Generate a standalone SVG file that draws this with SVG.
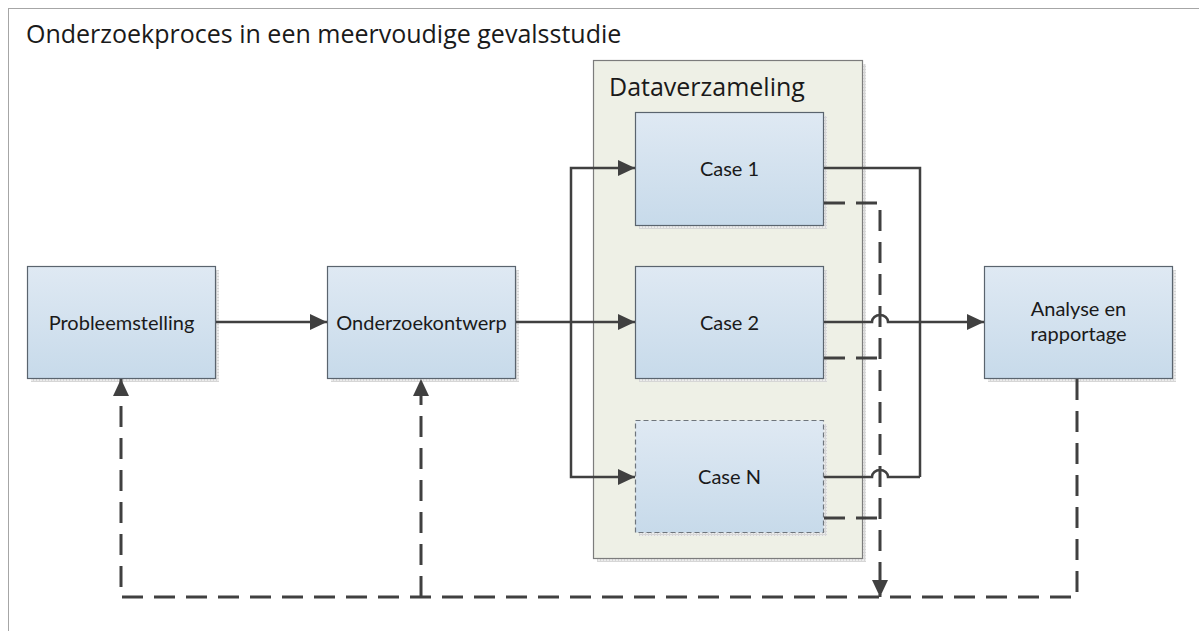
<svg xmlns="http://www.w3.org/2000/svg" width="1199" height="631" viewBox="0 0 1199 631">
  <style>
    text { fill: #1a1a1a; }
    .title, .group-label { font-family: "Open Sans", "Noto Sans", sans-serif; font-size: 25px; }
    .label { font-family: Lato, "Open Sans", sans-serif; font-size: 20px; text-anchor: middle; }
    .box { fill: url(#boxFill); stroke: #5a646e; stroke-width: 1.2; }
    .box-opt { fill: url(#boxFill); stroke: #6e757c; stroke-width: 1.2; stroke-dasharray: 5 3; }
    .shadow { fill: url(#hatch); }
    .flow { fill: none; stroke: #404040; stroke-width: 2.5; }
    .feedback { fill: none; stroke: #404040; stroke-width: 3; stroke-dasharray: 21 11; }
  </style>
  <defs>
    <linearGradient id="boxFill" x1="0" y1="0" x2="0" y2="1">
      <stop offset="0" stop-color="#dfe9f3"/>
      <stop offset="1" stop-color="#c7daea"/>
    </linearGradient>
    <pattern id="hatch" width="3" height="3" patternUnits="userSpaceOnUse">
      <rect width="3" height="3" fill="#ececec"/>
      <path d="M0 0.5H3M0.5 0V3" stroke="#d6d6d6" stroke-width="1"/>
    </pattern>
    <marker id="arrow" markerWidth="17" markerHeight="16" refX="17" refY="8" orient="auto" markerUnits="userSpaceOnUse">
      <path d="M0 0L17 8L0 16z" fill="#404040"/>
    </marker>
  </defs>

  <!-- page frame (runs past the right and bottom edges) and heading -->
  <rect x="8.5" y="8.5" width="1300" height="700" fill="#ffffff" stroke="#a6a6a6" stroke-width="1"/>
  <text class="title" x="26" y="43">Onderzoekproces in een meervoudige gevalsstudie</text>

  <!-- data collection container -->
  <g id="dataverzameling">
    <rect class="shadow" x="597" y="64" width="269" height="498"/>
    <rect x="593.5" y="60.5" width="269" height="498" fill="#eef0e6" stroke="#7c7c7c" stroke-width="1.2"/>
    <text class="group-label" x="609" y="96">Dataverzameling</text>
  </g>

  <g id="probleemstelling">
    <rect class="shadow" x="31" y="270" width="188" height="112"/>
    <rect class="box" x="27.5" y="266.5" width="188" height="112"/>
    <text class="label" x="121.5" y="330">Probleemstelling</text>
  </g>

  <g id="onderzoekontwerp">
    <rect class="shadow" x="331" y="270" width="188" height="112"/>
    <rect class="box" x="327.5" y="266.5" width="188" height="112"/>
    <text class="label" x="421.5" y="330">Onderzoekontwerp</text>
  </g>

  <g id="case1">
    <rect class="shadow" x="639" y="116" width="188" height="113"/>
    <rect class="box" x="635.5" y="112.5" width="188" height="113"/>
    <text class="label" x="729.5" y="176">Case 1</text>
  </g>

  <g id="case2">
    <rect class="shadow" x="639" y="270" width="188" height="112"/>
    <rect class="box" x="635.5" y="266.5" width="188" height="112"/>
    <text class="label" x="729.5" y="330">Case 2</text>
  </g>

  <g id="caseN">
    <rect class="shadow" x="639" y="424" width="188" height="112"/>
    <rect class="box-opt" x="635.5" y="420.5" width="188" height="112"/>
    <text class="label" x="729.5" y="484">Case N</text>
  </g>

  <g id="analyse">
    <rect class="shadow" x="988" y="270" width="188" height="112"/>
    <rect class="box" x="984.5" y="266.5" width="188" height="112"/>
    <text class="label" x="1078.5" y="316">Analyse en</text>
    <text class="label" x="1078.5" y="341">rapportage</text>
  </g>

  <g id="connectors">
    <!-- main flow -->
    <path class="flow" d="M216 322H327" marker-end="url(#arrow)"/>
    <path class="flow" d="M516 322H635" stroke-width="3" marker-end="url(#arrow)"/>
    <path class="flow" d="M571 322V168H635" marker-end="url(#arrow)"/>
    <path class="flow" d="M571 322V477H635" marker-end="url(#arrow)"/>
    <!-- cases to analysis -->
    <path class="flow" d="M824 168H920V477"/>
    <path class="flow" d="M824 477H872a8 7 0 0 1 16 0H920"/>
    <path class="flow" d="M824 322H872a8 7 0 0 1 16 0H920"/>
    <path class="flow" d="M920 322H984" stroke-width="3" marker-end="url(#arrow)"/>
    <!-- feedback from the cases -->
    <path class="feedback" d="M824 203H880"/>
    <path class="feedback" d="M824 358H880"/>
    <path class="feedback" d="M824 518H880"/>
    <path class="feedback" d="M880 210V597" marker-end="url(#arrow)"/>
    <!-- feedback from analysis back to the start -->
    <path class="feedback" d="M1077 379V597H121V379" marker-end="url(#arrow)"/>
    <path class="feedback" d="M421 597V379" marker-end="url(#arrow)"/>
  </g>
</svg>
